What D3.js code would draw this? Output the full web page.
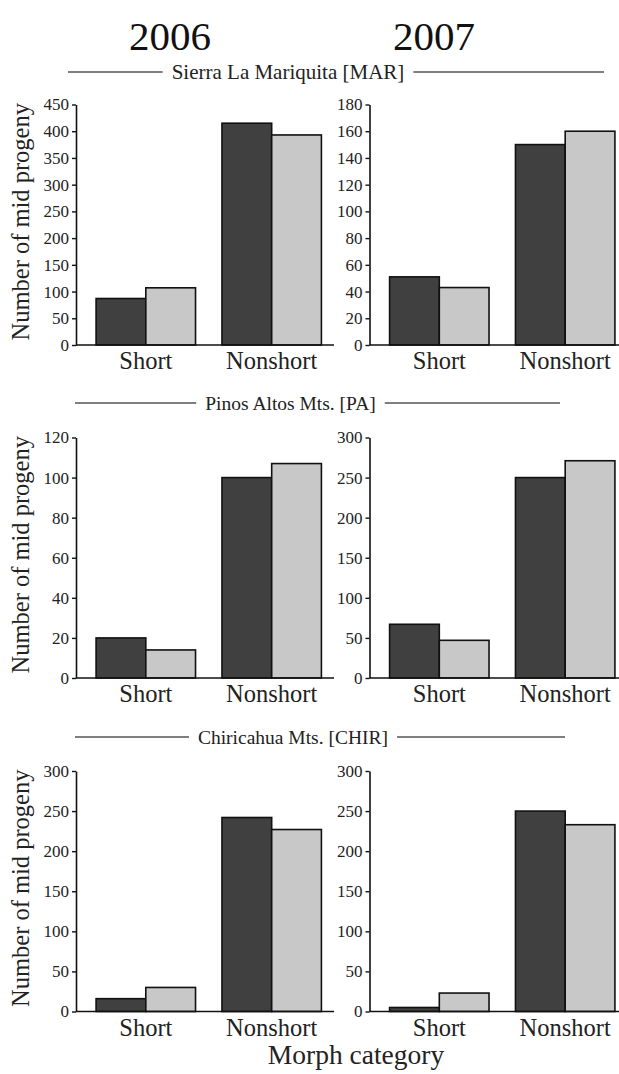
<!DOCTYPE html>
<html>
<head>
<meta charset="utf-8">
<script src="https://cdn.jsdelivr.net/npm/d3@7"></script>
</head>
<body style="margin:0; background:#fff">
<svg id="chart" style="display:block"></svg>
<script>
// data
const years = ["2006", "2007"];
const sites = ["Sierra La Mariquita [MAR]", "Pinos Altos Mts. [PA]", "Chiricahua Mts. [CHIR]"];
const categories = ["Short", "Nonshort"];

// one entry per panel: MAR 2006, MAR 2007, PA 2006, PA 2007, CHIR 2006, CHIR 2007
const darkValues = [[87, 415], [51, 150], [20, 100], [67, 250], [16, 242], [5, 250]];
const lightValues = [[107, 393], [43, 160], [14, 107], [47, 271], [30, 227], [23, 233]];
const yMax = [450, 180, 120, 300, 300, 300];
const yStep = [50, 20, 20, 50, 50, 50];

const serif = '"Liberation Serif"';
const width = 619, height = 1074;
const svg = d3.select("#chart").attr("width", width).attr("height", height);

const colLeft = [76, 369.5];       // x of the y axis in each column
const rowTop = [104.5, 437.5, 771]; // y of the top tick in each row
const plotH = 240.5;
const headerY = [72, 403, 737];

// year headings
const yearX = [170, 434];
years.forEach((yr, i) => {
    svg.append("text")
        .attr("x", yearX[i]).attr("y", 50)
        .attr("text-anchor", "middle")
        .attr("font-size", 41)
        .attr("fill", "#111")
        .text(yr);
});

// site headings with rules either side (rules stop just short of the text)
const headerOuter = [[68, 604], [75, 560], [75, 565]];
const headerMid = [288, 290.5, 293];
const headerSize = [21, 19.5, 19.5];
sites.forEach((s, r) => {
    const g = svg.append("g");
    const t = g.append("text")
        .attr("x", headerMid[r]).attr("y", headerY[r] + 7)
        .attr("text-anchor", "middle")
        .attr("font-size", headerSize[r])
        .attr("fill", "#222")
        .style("font-family", serif)
        .text(s);
    const half = t.node().getComputedTextLength() / 2;
    g.append("line").attr("x1", headerOuter[r][0]).attr("x2", headerMid[r] - half - 9)
        .attr("y1", headerY[r]).attr("y2", headerY[r])
        .attr("stroke", "#555").attr("stroke-width", 1.6);
    g.append("line").attr("x1", headerMid[r] + half + 9).attr("x2", headerOuter[r][1])
        .attr("y1", headerY[r]).attr("y2", headerY[r])
        .attr("stroke", "#555").attr("stroke-width", 1.6);
});

for (let p = 0; p < 6; p++) {
    const row = Math.floor(p / 2), col = p % 2;
    const x0 = colLeft[col];
    const top = rowTop[row], bottom = top + plotH;

    const x = d3.scaleBand()
        .domain(categories)
        .range([x0 + 7.5, x0 + 258])
        .paddingInner(0.21)
        .paddingOuter(0.1);

    const y = d3.scaleLinear()
        .domain([0, yMax[p]])
        .range([bottom, top]);

    const g = svg.append("g");

    // bars: each category split into dark / light halves
    const half = x.bandwidth() / 2;
    const bars = categories.map((c, i) => [
        { cat: c, v: darkValues[p][i], off: 0, fill: "#404040" },
        { cat: c, v: lightValues[p][i], off: half, fill: "#c8c8c8" }
    ]).flat();

    g.selectAll(".bar")
        .data(bars)
        .enter().append("rect")
        .attr("class", "bar")
        .attr("x", d => x(d.cat) + d.off)
        .attr("y", d => y(d.v))
        .attr("width", half)
        .attr("height", d => bottom - y(d.v))
        .attr("fill", d => d.fill)
        .attr("stroke", "#111")
        .attr("stroke-width", 1.6);

    // y axis
    const ticks = d3.range(0, yMax[p] + 1, yStep[p]);
    const ya = g.append("g")
        .attr("transform", `translate(${x0},0)`)
        .call(d3.axisLeft(y).tickValues(ticks).tickSize(4).tickPadding(3).tickSizeOuter(0));
    ya.select(".domain").attr("stroke", "#111").attr("stroke-width", 1.6);
    ya.selectAll(".tick line").attr("stroke", "#111").attr("stroke-width", 1.4);
    ya.selectAll(".tick text")
        .attr("font-size", 17)
        .attr("fill", "#222");

    // x baseline
    g.append("line")
        .attr("x1", x0).attr("x2", x0 + 258)
        .attr("y1", bottom).attr("y2", bottom)
        .attr("stroke", "#111").attr("stroke-width", 1.6);

    // category labels
    g.selectAll(".cat")
        .data(categories)
        .enter().append("text")
        .attr("class", "cat")
        .attr("x", d => x(d) + x.bandwidth() / 2)
        .attr("y", bottom + 24)
        .attr("text-anchor", "middle")
        .attr("font-size", 24.5)
        .attr("fill", "#222")
        .text(d => d);

    // y axis title on the left column
    if (col === 0) {
        svg.append("text")
            .attr("transform", `translate(29,${(top + bottom) / 2 - 3}) rotate(-90)`)
            .attr("text-anchor", "middle")
            .attr("font-size", 24.5)
            .attr("fill", "#222")
            .text("Number of mid progeny");
    }
}

svg.append("text")
    .attr("x", 356).attr("y", 1064)
    .attr("text-anchor", "middle")
    .attr("font-size", 27.5)
    .attr("fill", "#222")
    .text("Morph category");

// serif face on every label
svg.selectAll("text").style("font-family", serif);
</script>
</body>
</html>
